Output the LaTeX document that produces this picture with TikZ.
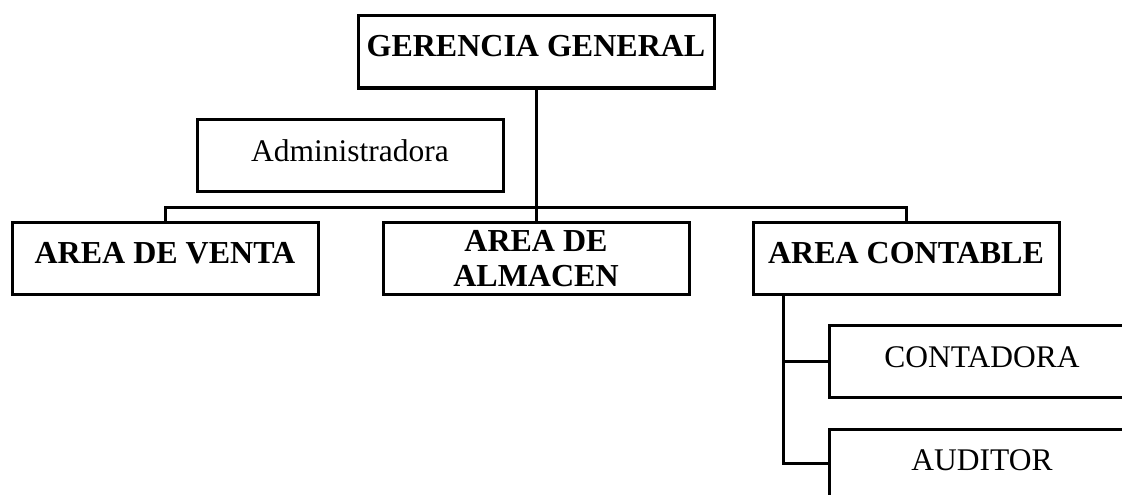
\documentclass[tikz,border=0pt]{standalone}
\usepackage{fontspec}
\setmainfont{Liberation Serif}
\usetikzlibrary{calc}
\begin{document}
\begin{tikzpicture}[x=1pt,y=-1pt,
  orgbox/.style={draw, line width=3pt, inner sep=0pt, outer sep=0pt, anchor=north west, minimum height=72pt},
  conn/.style={line width=3pt},
  btxt/.style={anchor=base, inner sep=0pt, font=\fontsize{32}{35}\selectfont\bfseries},
  rtxt/.style={anchor=base, inner sep=0pt, font=\fontsize{31.5}{35}\selectfont}]
\useasboundingbox (0,0) rectangle (1122,495);
\clip (0,0) rectangle (1122,495);
% boxes
\node[orgbox, minimum width=356pt] (gg) at (358,16) {};
\node[orgbox, minimum width=306pt] (adm) at (197,119) {};
\node[orgbox, minimum width=306pt] (venta) at (12,222) {};
\node[orgbox, minimum width=306pt] (alm) at (383,222) {};
\node[orgbox, minimum width=306pt] (cont) at (753,222) {};
\node[orgbox, minimum width=306pt] (contad) at (829,325) {};
\node[orgbox, minimum width=306pt] (aud) at (829,429) {};
% texts
\node[btxt] (gg-t) at ($(gg.north)+(0,41)$) {GERENCIA GENERAL};
\node[rtxt] (adm-t) at ($(adm.north)+(0,42)$) {Administradora};
\node[btxt] (venta-t) at ($(venta.north)+(0,41)$) {AREA DE VENTA};
\node[btxt] (alm-t1) at ($(alm.north)+(0,29)$) {AREA DE};
\node[btxt] (alm-t2) at ($(alm.north)+(0,64)$) {ALMACEN};
\node[btxt] (cont-t) at ($(cont.north)+(0,41)$) {AREA CONTABLE};
\node[rtxt] (contad-t) at ($(contad.north)+(0,42)$) {CONTADORA};
\node[rtxt] (aud-t) at ($(aud.north)+(0,41)$) {AUDITOR};
% connectors
\draw[conn] (gg.south) -- (alm.north);
\draw[conn] (venta.north) -- ++(0,-15) -| (cont.north);
\coordinate (cbr) at ($(cont.south west)+(30,0)$);
\draw[conn] (cbr) |- (contad.west);
\draw[conn] (cbr) |- ($(aud.north west)+(0,34)$);
\end{tikzpicture}
\end{document}
